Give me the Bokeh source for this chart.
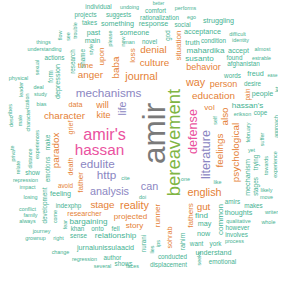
import math
from bokeh.plotting import figure
from bokeh.models import ColumnDataSource, Range1d
from bokeh.core.properties import value
from bokeh.embed import file_html
from bokeh.resources import INLINE

# word, x, y (pixel position in cloud), font size (px), rotated (1 = vertical), colour group
words = ["amir", "bereavement", "amir's", "hassan", "defense", "literature", "mechanisms", "edulite", "http", "analysis", "life", "can",
         "psychological", "feelings", "also", "education", "vol", "way", "person", "behavior", "situation", "denial", "culture", "journal",
         "anger", "baba", "upon", "time", "loss", "will", "kite", "character", "data", "paradox", "grief", "death", "father", "avoid",
         "stage", "reality", "researcher", "projected", "story", "runner", "sohrab", "fathers", "gut", "english", "pain",
         "bargaining", "one", "like", "doi", "amirs", "makes", "writer", "whole", "thoughts", "qualitative", "however", "involves", "process",
         "common", "find", "may", "now", "want", "york", "rahim", "understand", "emotional", "displacement", "conducted", "seeks", "lies",
         "nurani", "ips", "relationship", "khan", "onto", "fell", "sense", "jurnalunissulaacid", "author", "regression", "shows", "several",
         "faces", "change", "right", "grownup", "journey", "always", "family", "conflict", "losing", "impact", "repression", "show",
         "development", "feeling", "indexphp", "come", "fear", "cite", "describes", "private", "relate", "male", "characterization",
         "leader", "distance", "experiences", "emotions", "make", "study", "deal", "bias", "depression", "form", "sexual", "physical",
         "actions", "understanding", "things", "flow", "see", "trouble", "research", "shame", "style", "main", "past", "takes",
         "something", "someone", "projects", "suggests", "individual", "undoing", "please", "new", "man", "better", "comfort", "performs",
         "rationalization", "ego", "response", "social", "struggling", "novel", "god", "truth", "condition", "identity", "acceptance",
         "difficult", "mahardika", "accept", "almost", "susanto", "found", "estrable", "afghanistan", "words", "freud", "ease", "desire",
         "people", "let", "hassan's", "erikson", "cope", "self", "february", "suffer", "approach", "yet", "mechanism", "trying", "stages",
         "towards", "experience", "likely", "move"]
x_pos = [161, 181, 112, 107, 200, 213, 116, 105, 114, 117, 129, 157,
         243, 227, 232, 221, 217, 203, 231, 211, 186, 161, 162, 149,
         98, 123, 109, 93, 140, 110, 111, 72, 83, 63, 78, 78, 88, 73,
         110, 142, 92, 138, 142, 165, 177, 198, 211, 212, 255,
         96, 193, 225, 150, 240, 261, 279, 276, 246, 246, 245, 244, 242,
         228, 209, 212, 211, 204, 223, 190, 221, 230, 176, 180, 206, 159,
         151, 165, 123, 85, 105, 123, 86, 113, 120, 92, 131, 110,
         140, 68, 66, 43, 49, 35, 38, 35, 38, 35, 33, 40,
         52, 68, 76, 62, 72, 133, 18, 20, 25, 27, 35,
         28, 37, 44, 55, 55, 48, 46, 49, 65, 58, 44, 26,
         62, 52, 51, 67, 75, 82, 80, 90, 98, 100, 101, 97,
         125, 142, 93, 126, 106, 137, 117, 130, 137, 166, 163, 193,
         167, 199, 161, 190, 226, 157, 175, 200, 221, 248, 210,
         245, 213, 246, 270, 207, 242, 269, 251, 240, 263, 280, 260,
         270, 284, 255, 250, 268, 222, 255, 269, 283, 259, 255, 263, 263,
         273, 282, 274, 274]
y_pos = [141, 150, 141, 157, 139, 162, 100, 171, 182, 198, 116, 193,
         160, 158, 124, 103, 115, 89, 91, 74, 53, 57, 70, 83,
         82, 75, 64, 73, 63, 112, 122, 123, 112, 158, 135, 174, 190, 193,
         212, 212, 221, 224, 233, 223, 245, 223, 214, 199, 102,
         229, 186, 189, 204, 209, 213, 219, 229, 220, 228, 235, 242, 248,
         227, 223, 231, 241, 251, 251, 249, 260, 269, 272, 264, 266, 257,
         251, 251, 243, 236, 236, 236, 243, 255, 265, 266, 271, 273,
         273, 259, 245, 245, 238, 228, 222, 216, 204, 194, 187, 180,
         213, 201, 213, 224, 232, 185, 123, 161, 175, 128, 120,
         97, 166, 152, 177, 150, 101, 94, 111, 89, 84, 75, 85,
         65, 56, 49, 43, 44, 38, 69, 66, 57, 48, 40, 30,
         31, 40, 22, 22, 14, 14, 46, 49, 49, 11, 18, 15,
         25, 24, 31, 32, 28, 49, 43, 50, 48, 47, 39,
         41, 58, 58, 56, 66, 65, 65, 71, 83, 81, 83, 91,
         101, 97, 113, 121, 120, 128, 140, 147, 134, 157, 185, 170, 194,
         173, 172, 197, 204]
font_px = [35, 20.5, 18, 17, 14, 14, 13, 13, 13, 12, 12, 12,
           11, 11, 11, 11, 9, 12, 10, 10, 9, 11, 11, 12,
           11, 11, 9, 9, 9, 10, 10, 11, 8, 11, 8, 8, 9, 7,
           11, 12, 8, 9, 9, 9, 8, 9, 11, 12, 7,
           9, 6, 6, 6, 7, 7, 6, 6, 8, 6, 7, 7, 6,
           9, 9, 8, 8, 7, 7, 8, 8, 7, 7, 7, 6, 6,
           7, 6, 9, 7, 7, 7, 7, 8, 7, 6, 7, 6,
           6, 6, 6, 6, 6, 6, 6, 6, 6, 6, 6, 7,
           7, 8, 7, 6, 6, 6, 6, 6, 6, 6, 6,
           6, 6, 6, 7, 7, 6, 6, 6, 8, 7, 6, 6,
           7, 6, 6, 6, 6, 6, 7, 7, 6, 8, 8, 7,
           8, 8, 7, 7, 7, 6, 6, 6, 6, 5, 7, 6,
           7, 6, 8, 7, 8, 7, 7, 8, 7, 6, 8,
           6, 9, 8, 6, 9, 7, 6, 7, 7, 8, 5, 7,
           8, 6, 9, 6, 7, 6, 6, 6, 6, 6, 8, 7, 7,
           6, 6, 6, 6]
rotated = [1, 1, 0, 0, 1, 1, 0, 0, 0, 0, 1, 0,
           1, 1, 1, 0, 0, 0, 0, 0, 1, 0, 0, 0,
           0, 1, 1, 0, 1, 0, 0, 0, 0, 1, 1, 1, 1, 0,
           0, 0, 0, 0, 0, 1, 1, 1, 0, 0, 1,
           0, 0, 0, 0, 0, 0, 0, 0, 0, 0, 0, 0, 0,
           1, 0, 0, 0, 0, 0, 1, 0, 0, 0, 0, 1, 1,
           1, 1, 0, 0, 0, 0, 0, 0, 0, 0, 0, 0,
           0, 0, 0, 0, 0, 0, 0, 0, 0, 0, 0, 0,
           1, 0, 0, 1, 1, 0, 1, 1, 1, 1, 1,
           1, 1, 1, 1, 1, 0, 0, 0, 1, 1, 1, 0,
           0, 0, 0, 1, 1, 1, 1, 1, 1, 0, 0, 0,
           0, 0, 0, 0, 0, 0, 1, 1, 0, 0, 0, 0,
           0, 0, 0, 0, 0, 0, 1, 0, 0, 0, 0,
           0, 0, 0, 0, 0, 0, 0, 0, 0, 0, 0, 0,
           0, 1, 0, 0, 0, 1, 1, 1, 1, 0, 1, 1, 1,
           1, 1, 0, 0]
color_group = [5, 4, 3, 3, 3, 2, 2, 2, 2, 2, 2, 2,
               1, 1, 1, 1, 1, 1, 1, 1, 1, 1, 1, 1,
               1, 1, 1, 1, 1, 1, 1, 1, 1, 1, 1, 1, 1, 1,
               1, 1, 1, 1, 1, 1, 1, 1, 1, 1, 1] + [0] * (len(words) - 49)

palette = ["#45b292", "#e57f36", "#8b86c2", "#ea52a0", "#80b544", "#7a7a7a"]
size_scale = 0.9

n = len(words)
assert len(x_pos) == n and len(y_pos) == n and len(font_px) == n and len(rotated) == n

source = ColumnDataSource(dict(
    word=words,
    x=x_pos,
    y=y_pos,
    size=[f"{s * size_scale:.1f}px" for s in font_px],
    angle=[math.pi / 2 if r else 0.0 for r in rotated],
    color=[palette[g] for g in color_group],
))

p = figure(width=278, height=268, x_range=Range1d(8, 286), y_range=Range1d(276, 8),
           output_backend="svg", toolbar_location=None, min_border=0)
p.axis.visible = False
p.grid.visible = False
p.outline_line_color = None
p.background_fill_color = "white"
p.border_fill_color = "white"

p.text(x="x", y="y", text="word", angle="angle", text_font_size="size", text_color="color",
       text_align="center", text_baseline="middle", text_font=value("Liberation Sans"), source=source)

open("out.html", "w").write(file_html(p, INLINE))
